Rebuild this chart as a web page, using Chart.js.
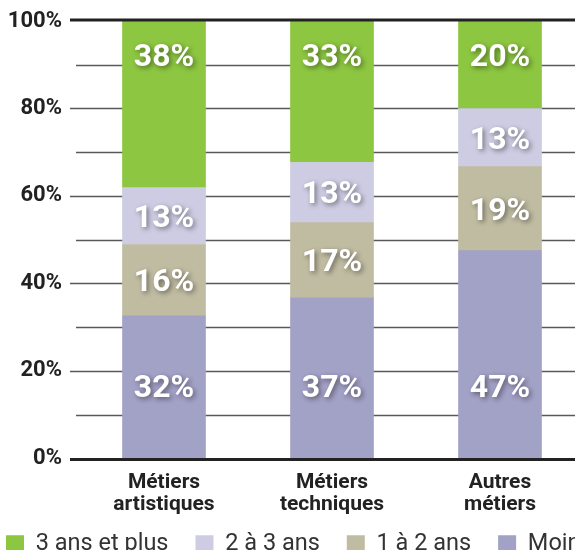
<!DOCTYPE html>
<html>
<head>
<meta charset="utf-8">
<script src="https://cdn.jsdelivr.net/npm/chart.js@4"></script>
<style>
  html, body { margin: 0; padding: 0; background: #fff; overflow: hidden; }
  #wrap { width: 575px; height: 550px; overflow: hidden; position: relative; }
  #chart { position: absolute; left: -21px; top: 0; }
</style>
</head>
<body>
<div id="wrap"><canvas id="chart" width="760" height="589"></canvas></div>
<script>
// categories
const categories = [["Métiers", "artistiques"], ["Métiers", "techniques"], ["Autres", "métiers"]];

// series (bottom of the stack first), in percent
const moinsUnAn   = [32.6, 36.7, 47.5];
const unADeuxAns  = [16.3, 17.2, 19.2];
const deuxATrois  = [13.0, 13.8, 13.3];
const troisEtPlus = [38.1, 32.3, 20.0];

// printed labels on the bars
const moinsUnAnLabels   = ["32%", "37%", "47%"];
const unADeuxAnsLabels  = ["16%", "17%", "19%"];
const deuxATroisLabels  = ["13%", "13%", "13%"];
const troisEtPlusLabels = ["38%", "33%", "20%"];

const yTicks = [0, 20, 40, 60, 80, 100];
const gridSteps = [0, 10, 20, 30, 40, 50, 60, 70, 80, 90, 100];

const FONT = "Roboto, 'DejaVu Sans', sans-serif";

// grid lines drawn from the y scale: long ones at every 20%, short ones between
const gridPlugin = {
    id: "grid",
    beforeDatasetsDraw(chart) {
        const ctx = chart.ctx;
        const y = chart.scales.y;
        const left = chart.chartArea.left;
        ctx.save();
        for (const v of gridSteps) {
            if (v == 0 || v == 100) continue;
            const py = Math.round(y.getPixelForValue(v)) + 0.5;
            ctx.strokeStyle = "#5a5a5a";
            ctx.lineWidth = 1.5;
            ctx.beginPath();
            ctx.moveTo(v % 20 == 0 ? left - 10 : left - 4, py);
            ctx.lineTo(chart.width, py);
            ctx.stroke();
        }
        ctx.restore();
    },
    afterDatasetsDraw(chart) {
        const ctx = chart.ctx;
        const y = chart.scales.y;
        ctx.save();
        ctx.strokeStyle = "#222";
        ctx.lineWidth = 3;
        for (const v of [0, 100]) {
            const py = y.getPixelForValue(v) + (v == 100 ? -1 : 1);
            ctx.beginPath();
            ctx.moveTo(chart.chartArea.left - 10, py);
            ctx.lineTo(chart.width, py);
            ctx.stroke();
        }
        ctx.restore();
    }
};

// pull the legend up so it sits just under the category labels
const legendShift = {
    id: "legendShift",
    afterLayout(chart) {
        const lg = chart.legend;
        const d = lg.top - (chart.scales.x.bottom - 23);
        lg.top -= d;
        lg.bottom -= d;
    }
};

// white value labels: bottom and top ones sit at a fixed distance from the bar ends,
// the middle ones are centred in their segment
const valueLabels = {
    id: "valueLabels",
    afterDatasetsDraw(chart) {
        const ctx = chart.ctx;
        const last = chart.data.datasets.length - 1;
        ctx.save();
        ctx.font = "bold 32px " + FONT;
        ctx.textAlign = "center";
        ctx.textBaseline = "middle";
        ctx.fillStyle = "#fff";
        ctx.shadowColor = "rgba(0,0,0,0.45)";
        ctx.shadowBlur = 5;
        ctx.shadowOffsetX = 2;
        ctx.shadowOffsetY = 2;
        chart.data.datasets.forEach(function(ds, i) {
            const meta = chart.getDatasetMeta(i);
            meta.data.forEach(function(bar, j) {
                const p = bar.getProps(["x", "y", "base"], true);
                let ty = (p.y + p.base) / 2 + 3;
                if (i == 0) ty = p.base - 69;
                if (i == last) ty = p.y + 37;
                ctx.fillText(ds.printed[j], p.x, ty);
            });
        });
        ctx.restore();
    }
};

new Chart(document.getElementById("chart"), {
    type: "bar",
    data: {
        labels: categories,
        datasets: [
            { label: "Moins d'1 an", data: moinsUnAn, printed: moinsUnAnLabels, backgroundColor: "#a2a1c6" },
            { label: "1 à 2 ans", data: unADeuxAns, printed: unADeuxAnsLabels, backgroundColor: "#c0bca2" },
            { label: "2 à 3 ans", data: deuxATrois, printed: deuxATroisLabels, backgroundColor: "#cdcce3" },
            { label: "3 ans et plus", data: troisEtPlus, printed: troisEtPlusLabels, backgroundColor: "#8dc641" }
        ]
    },
    options: {
        responsive: false,
        animation: false,
        devicePixelRatio: 1,
        layout: { padding: { top: 21, right: 0, left: 0, bottom: 0 } },
        datasets: { bar: { barThickness: 83, borderWidth: 0 } },
        scales: {
            x: {
                stacked: true,
                grid: { display: false, drawTicks: false },
                border: { display: false },
                ticks: { color: "#222", font: { family: FONT, size: 21, weight: "bold", lineHeight: 1.05 }, padding: 13, maxRotation: 0 }
            },
            y: {
                stacked: true,
                min: 0,
                max: 100,
                afterFit(scale) { scale.width = 101; },
                afterBuildTicks(scale) { scale.ticks = yTicks.map(function(v) { return { value: v }; }); },
                grid: { display: true, drawOnChartArea: false, drawTicks: true, tickLength: 14, color: "rgba(0,0,0,0)" },
                border: { display: false },
                ticks: {
                    color: "#222",
                    padding: 4,
                    font: { family: FONT, size: 22, weight: "bold" },
                    callback: function(v) { return v + "%"; }
                }
            },
            // empty axis on the right, only there to hold the plot area at the reference width
            spacer: {
                position: "right",
                afterFit(scale) { scale.width = 155; },
                grid: { display: false, drawTicks: false },
                border: { display: false },
                ticks: { display: false }
            }
        },
        plugins: {
            legend: {
                position: "bottom",
                align: "start",
                reverse: true,
                labels: {
                    color: "#333",
                    font: { family: FONT, size: 23.5 },
                    boxWidth: 18,
                    boxHeight: 18,
                    padding: 27
                }
            },
            tooltip: { enabled: false }
        }
    },
    plugins: [gridPlugin, legendShift, valueLabels]
});
</script>
</body>
</html>
